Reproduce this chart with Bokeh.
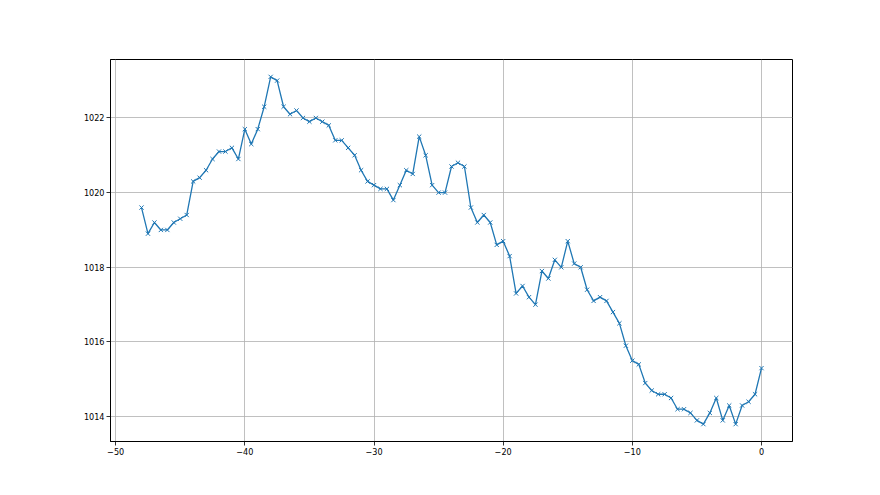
from bokeh.plotting import figure
from bokeh.models import Range1d, FixedTicker, CustomJSTickFormatter
from bokeh.embed import file_html
from bokeh.resources import INLINE

hours = [-48 + 0.5 * i for i in range(97)]
pressure = [
    1019.6, 1018.9, 1019.2, 1019.0, 1019.0, 1019.2, 1019.3, 1019.4, 1020.3, 1020.4,
    1020.6, 1020.9, 1021.1, 1021.1, 1021.2, 1020.9, 1021.7, 1021.3, 1021.7, 1022.3,
    1023.1, 1023.0, 1022.3, 1022.1, 1022.2, 1022.0, 1021.9, 1022.0, 1021.9, 1021.8,
    1021.4, 1021.4, 1021.2, 1021.0, 1020.6, 1020.3, 1020.2, 1020.1, 1020.1, 1019.8,
    1020.2, 1020.6, 1020.5, 1021.5, 1021.0, 1020.2, 1020.0, 1020.0, 1020.7, 1020.8,
    1020.7, 1019.6, 1019.2, 1019.4, 1019.2, 1018.6, 1018.7, 1018.3, 1017.3, 1017.5,
    1017.2, 1017.0, 1017.9, 1017.7, 1018.2, 1018.0, 1018.7, 1018.1, 1018.0, 1017.4,
    1017.1, 1017.2, 1017.1, 1016.8, 1016.5, 1015.9, 1015.5, 1015.4, 1014.9, 1014.7,
    1014.6, 1014.6, 1014.5, 1014.2, 1014.2, 1014.1, 1013.9, 1013.8, 1014.1, 1014.5,
    1013.9, 1014.3, 1013.8, 1014.3, 1014.4, 1014.6, 1015.3,
]
x_ticks = [-50, -40, -30, -20, -10, 0]
y_ticks = [1014, 1016, 1018, 1020, 1022]

xmin, xmax = min(hours), max(hours)
ymin, ymax = min(pressure), max(pressure)
xm = 0.05 * (xmax - xmin)
ym = 0.05 * (ymax - ymin)

p = figure(width=872, height=487, output_backend="svg", toolbar_location=None,
           x_range=Range1d(xmin - xm, xmax + xm), y_range=Range1d(ymin - ym, ymax + ym),
           min_border_left=110, min_border_right=80, min_border_top=59, min_border_bottom=46)
p.background_fill_color = "white"
p.border_fill_color = "white"
p.outline_line_color = "black"
p.outline_line_width = 1

p.line(hours, pressure, line_color="#1f77b4", line_width=1.3)
p.scatter(hours, pressure, marker="x", size=6, line_color="#1f77b4", line_width=1)

p.xaxis.ticker = FixedTicker(ticks=x_ticks)
p.yaxis.ticker = FixedTicker(ticks=y_ticks)
p.xaxis.formatter = CustomJSTickFormatter(code="return tick < 0 ? '\\u2212' + Math.abs(tick) : String(tick);")
for ax in (p.xaxis, p.yaxis):
    ax.axis_line_color = "black"
    ax.axis_line_width = 0.8
    ax.major_tick_line_color = "black"
    ax.major_tick_line_width = 0.8
    ax.major_tick_out = 4
    ax.major_tick_in = 0
    ax.minor_tick_line_color = None
    ax.major_label_text_font = "DejaVu Sans Condensed"
    ax.major_label_text_font_size = "9px"
    ax.major_label_text_color = "black"
    ax.major_label_standoff = 2
p.xgrid.ticker = FixedTicker(ticks=x_ticks)
p.ygrid.ticker = FixedTicker(ticks=y_ticks)
for g in (p.xgrid, p.ygrid):
    g.grid_line_color = "#b0b0b0"
    g.grid_line_width = 0.8
    g.grid_line_alpha = 1

open("out.html", "w").write(file_html(p, INLINE))
